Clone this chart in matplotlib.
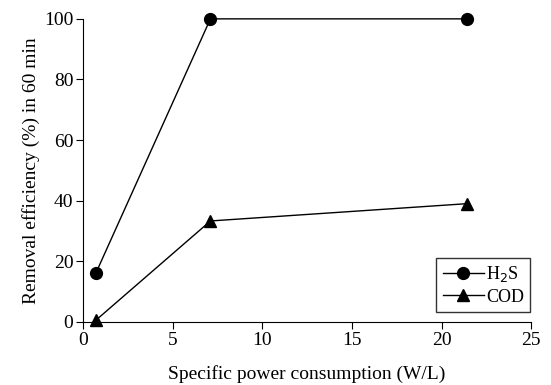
import matplotlib
matplotlib.use("Agg")
import matplotlib.pyplot as plt

power = [0.7, 7.1, 21.4]
h2s = [16, 100, 100]
cod = [0.5, 33.3, 39]

plt.rcParams['font.family'] = ['Liberation Serif', 'DejaVu Serif']
fig = plt.figure(figsize=(5.51, 3.85), dpi=100)
ax = fig.add_axes([0.151, 0.164, 0.813, 0.787])
ax.plot(power, h2s, color='black', lw=1, marker='o', ms=8.5, label='H$_2$S', clip_on=False)
ax.plot(power, cod, color='black', lw=1, marker='^', ms=8.5, label='COD', clip_on=False)
ax.set_xlim(0, 25)
ax.set_ylim(0, 100)
ax.set_xticks([0, 5, 10, 15, 20, 25])
ax.set_yticks([0, 20, 40, 60, 80, 100])
for s in ['top', 'right']:
    ax.spines[s].set_visible(False)
ax.tick_params(direction='out', length=5, labelsize=14, colors='black', pad=2)
ax.set_xlabel('Specific power consumption (W/L)', fontsize=14, labelpad=12)
ax.set_ylabel('Removal efficiency (%) in 60 min', fontsize=14, labelpad=3)
leg = ax.legend(loc='lower right', bbox_to_anchor=(0.998, 0.033), borderaxespad=0,
                fontsize=13, frameon=True, fancybox=False, edgecolor='black',
                handlelength=2.3, handletextpad=0.1, borderpad=0.35, labelspacing=0.25)
leg.get_frame().set_linewidth(1)
fig.savefig('out.png', dpi=100)
